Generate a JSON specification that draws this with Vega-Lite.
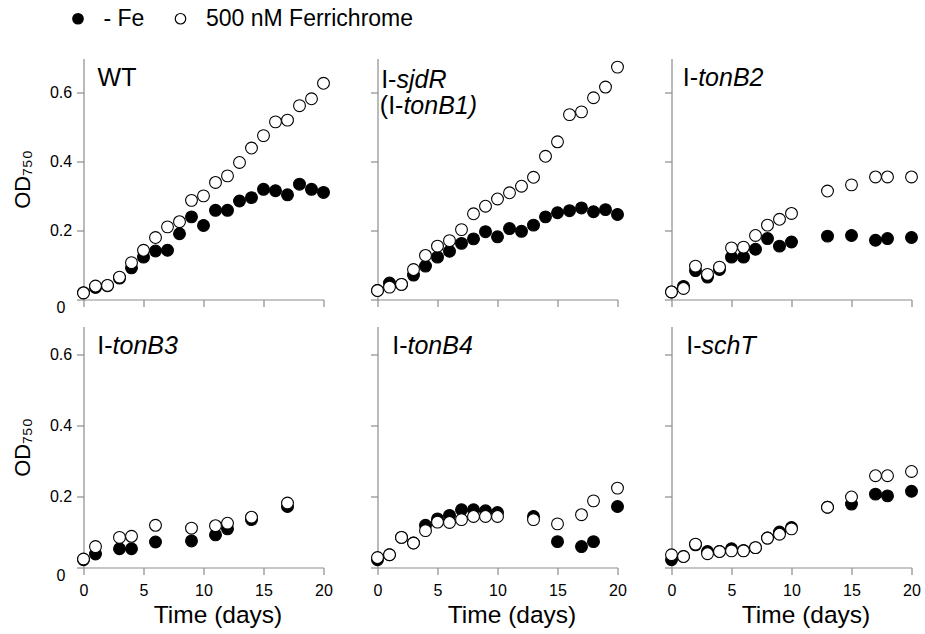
{
"$schema":"https://vega.github.io/schema/vega-lite/v6.json",
"background":"white",
"padding":{"left":10.5,"top":6.5,"right":5,"bottom":3},
"config":{"view":{"stroke":null},"font":"Liberation Sans",
"axis":{"domainColor":"#8c8c8c","tickColor":"#8c8c8c","domainWidth":1.2,"tickWidth":1.2,"tickSize":7,"labelFontSize":16,"labelColor":"black","titleFontSize":22,"titleFontWeight":"normal","titleColor":"black","grid":false,"labelFlush":false},
"axisX":{"labelPadding":8,"titlePadding":5,"titleFontSize":24.5},
"axisY":{"titlePadding":15},
"legend":{"orient":"none","legendX":-17,"legendY":-51.5,"direction":"horizontal","labelFontSize":23,"labelLimit":0,"labelColor":"black","symbolType":"circle","symbolSize":110,"symbolStrokeColor":"black","symbolStrokeWidth":1.2,"columnPadding":24.5,"labelOffset":14,"padding":0}},
"datasets":{
"labels":[
{"panel":"WT","day":4.41,"od":0.62,"prefix":"WT","gene":""},
{"panel":"sjdR","day":1.58,"od":0.615,"prefix":"I-","gene":"sjdR"},
{"panel":"sjdR","day":2.16,"od":0.538,"prefix":"(I-","gene":"tonB1)"},
{"panel":"tonB2","day":2.22,"od":0.62,"prefix":"I-","gene":"tonB2"},
{"panel":"tonB3","day":2.42,"od":0.601,"prefix":"I-","gene":"tonB3"},
{"panel":"tonB4","day":2.5,"od":0.603,"prefix":"I-","gene":"tonB4"},
{"panel":"schT","day":2.5,"od":0.603,"prefix":"I-","gene":"schT"}],
"od":[
{"panel":"WT","condition":"- Fe","day":0,"od":0.02},{"panel":"WT","condition":"- Fe","day":1,"od":0.035},{"panel":"WT","condition":"- Fe","day":2,"od":0.04},{"panel":"WT","condition":"- Fe","day":3,"od":0.062},{"panel":"WT","condition":"- Fe","day":4,"od":0.092},{"panel":"WT","condition":"- Fe","day":5,"od":0.123},{"panel":"WT","condition":"- Fe","day":6,"od":0.141},{"panel":"WT","condition":"- Fe","day":7,"od":0.143},{"panel":"WT","condition":"- Fe","day":8,"od":0.191},{"panel":"WT","condition":"- Fe","day":9,"od":0.24},{"panel":"WT","condition":"- Fe","day":10,"od":0.215},{"panel":"WT","condition":"- Fe","day":11,"od":0.259},{"panel":"WT","condition":"- Fe","day":12,"od":0.259},{"panel":"WT","condition":"- Fe","day":13,"od":0.286},{"panel":"WT","condition":"- Fe","day":14,"od":0.296},{"panel":"WT","condition":"- Fe","day":15,"od":0.32},{"panel":"WT","condition":"- Fe","day":16,"od":0.316},{"panel":"WT","condition":"- Fe","day":17,"od":0.304},{"panel":"WT","condition":"- Fe","day":18,"od":0.335},{"panel":"WT","condition":"- Fe","day":19,"od":0.32},{"panel":"WT","condition":"- Fe","day":20,"od":0.311},
{"panel":"WT","condition":"500 nM Ferrichrome","day":0,"od":0.019},{"panel":"WT","condition":"500 nM Ferrichrome","day":1,"od":0.039},{"panel":"WT","condition":"500 nM Ferrichrome","day":2,"od":0.041},{"panel":"WT","condition":"500 nM Ferrichrome","day":3,"od":0.065},{"panel":"WT","condition":"500 nM Ferrichrome","day":4,"od":0.107},{"panel":"WT","condition":"500 nM Ferrichrome","day":5,"od":0.143},{"panel":"WT","condition":"500 nM Ferrichrome","day":6,"od":0.18},{"panel":"WT","condition":"500 nM Ferrichrome","day":7,"od":0.211},{"panel":"WT","condition":"500 nM Ferrichrome","day":8,"od":0.226},{"panel":"WT","condition":"500 nM Ferrichrome","day":9,"od":0.288},{"panel":"WT","condition":"500 nM Ferrichrome","day":10,"od":0.301},{"panel":"WT","condition":"500 nM Ferrichrome","day":11,"od":0.34},{"panel":"WT","condition":"500 nM Ferrichrome","day":12,"od":0.359},{"panel":"WT","condition":"500 nM Ferrichrome","day":13,"od":0.398},{"panel":"WT","condition":"500 nM Ferrichrome","day":14,"od":0.44},{"panel":"WT","condition":"500 nM Ferrichrome","day":15,"od":0.476},{"panel":"WT","condition":"500 nM Ferrichrome","day":16,"od":0.516},{"panel":"WT","condition":"500 nM Ferrichrome","day":17,"od":0.521},{"panel":"WT","condition":"500 nM Ferrichrome","day":18,"od":0.563},{"panel":"WT","condition":"500 nM Ferrichrome","day":19,"od":0.583},{"panel":"WT","condition":"500 nM Ferrichrome","day":20,"od":0.628},
{"panel":"sjdR","condition":"- Fe","day":0,"od":0.026},{"panel":"sjdR","condition":"- Fe","day":1,"od":0.048},{"panel":"sjdR","condition":"- Fe","day":2,"od":0.044},{"panel":"sjdR","condition":"- Fe","day":3,"od":0.071},{"panel":"sjdR","condition":"- Fe","day":4,"od":0.097},{"panel":"sjdR","condition":"- Fe","day":5,"od":0.123},{"panel":"sjdR","condition":"- Fe","day":6,"od":0.14},{"panel":"sjdR","condition":"- Fe","day":7,"od":0.163},{"panel":"sjdR","condition":"- Fe","day":8,"od":0.176},{"panel":"sjdR","condition":"- Fe","day":9,"od":0.197},{"panel":"sjdR","condition":"- Fe","day":10,"od":0.182},{"panel":"sjdR","condition":"- Fe","day":11,"od":0.206},{"panel":"sjdR","condition":"- Fe","day":12,"od":0.198},{"panel":"sjdR","condition":"- Fe","day":13,"od":0.216},{"panel":"sjdR","condition":"- Fe","day":14,"od":0.24},{"panel":"sjdR","condition":"- Fe","day":15,"od":0.252},{"panel":"sjdR","condition":"- Fe","day":16,"od":0.258},{"panel":"sjdR","condition":"- Fe","day":17,"od":0.266},{"panel":"sjdR","condition":"- Fe","day":18,"od":0.255},{"panel":"sjdR","condition":"- Fe","day":19,"od":0.261},{"panel":"sjdR","condition":"- Fe","day":20,"od":0.247},
{"panel":"sjdR","condition":"500 nM Ferrichrome","day":0,"od":0.026},{"panel":"sjdR","condition":"500 nM Ferrichrome","day":1,"od":0.036},{"panel":"sjdR","condition":"500 nM Ferrichrome","day":2,"od":0.044},{"panel":"sjdR","condition":"500 nM Ferrichrome","day":3,"od":0.087},{"panel":"sjdR","condition":"500 nM Ferrichrome","day":4,"od":0.128},{"panel":"sjdR","condition":"500 nM Ferrichrome","day":5,"od":0.155},{"panel":"sjdR","condition":"500 nM Ferrichrome","day":6,"od":0.171},{"panel":"sjdR","condition":"500 nM Ferrichrome","day":7,"od":0.203},{"panel":"sjdR","condition":"500 nM Ferrichrome","day":8,"od":0.249},{"panel":"sjdR","condition":"500 nM Ferrichrome","day":9,"od":0.271},{"panel":"sjdR","condition":"500 nM Ferrichrome","day":10,"od":0.292},{"panel":"sjdR","condition":"500 nM Ferrichrome","day":11,"od":0.31},{"panel":"sjdR","condition":"500 nM Ferrichrome","day":12,"od":0.329},{"panel":"sjdR","condition":"500 nM Ferrichrome","day":13,"od":0.355},{"panel":"sjdR","condition":"500 nM Ferrichrome","day":14,"od":0.416},{"panel":"sjdR","condition":"500 nM Ferrichrome","day":15,"od":0.458},{"panel":"sjdR","condition":"500 nM Ferrichrome","day":16,"od":0.537},{"panel":"sjdR","condition":"500 nM Ferrichrome","day":17,"od":0.545},{"panel":"sjdR","condition":"500 nM Ferrichrome","day":18,"od":0.586},{"panel":"sjdR","condition":"500 nM Ferrichrome","day":19,"od":0.617},{"panel":"sjdR","condition":"500 nM Ferrichrome","day":20,"od":0.675},
{"panel":"tonB2","condition":"- Fe","day":0,"od":0.022},{"panel":"tonB2","condition":"- Fe","day":1,"od":0.038},{"panel":"tonB2","condition":"- Fe","day":2,"od":0.084},{"panel":"tonB2","condition":"- Fe","day":3,"od":0.065},{"panel":"tonB2","condition":"- Fe","day":4,"od":0.087},{"panel":"tonB2","condition":"- Fe","day":5,"od":0.123},{"panel":"tonB2","condition":"- Fe","day":6,"od":0.123},{"panel":"tonB2","condition":"- Fe","day":7,"od":0.146},{"panel":"tonB2","condition":"- Fe","day":8,"od":0.177},{"panel":"tonB2","condition":"- Fe","day":9,"od":0.155},{"panel":"tonB2","condition":"- Fe","day":10,"od":0.167},{"panel":"tonB2","condition":"- Fe","day":13,"od":0.184},{"panel":"tonB2","condition":"- Fe","day":15,"od":0.186},{"panel":"tonB2","condition":"- Fe","day":17,"od":0.172},{"panel":"tonB2","condition":"- Fe","day":18,"od":0.177},{"panel":"tonB2","condition":"- Fe","day":20,"od":0.18},
{"panel":"tonB2","condition":"500 nM Ferrichrome","day":0,"od":0.022},{"panel":"tonB2","condition":"500 nM Ferrichrome","day":1,"od":0.032},{"panel":"tonB2","condition":"500 nM Ferrichrome","day":2,"od":0.097},{"panel":"tonB2","condition":"500 nM Ferrichrome","day":3,"od":0.073},{"panel":"tonB2","condition":"500 nM Ferrichrome","day":4,"od":0.094},{"panel":"tonB2","condition":"500 nM Ferrichrome","day":5,"od":0.15},{"panel":"tonB2","condition":"500 nM Ferrichrome","day":6,"od":0.152},{"panel":"tonB2","condition":"500 nM Ferrichrome","day":7,"od":0.186},{"panel":"tonB2","condition":"500 nM Ferrichrome","day":8,"od":0.216},{"panel":"tonB2","condition":"500 nM Ferrichrome","day":9,"od":0.233},{"panel":"tonB2","condition":"500 nM Ferrichrome","day":10,"od":0.25},{"panel":"tonB2","condition":"500 nM Ferrichrome","day":13,"od":0.315},{"panel":"tonB2","condition":"500 nM Ferrichrome","day":15,"od":0.333},{"panel":"tonB2","condition":"500 nM Ferrichrome","day":17,"od":0.356},{"panel":"tonB2","condition":"500 nM Ferrichrome","day":18,"od":0.356},{"panel":"tonB2","condition":"500 nM Ferrichrome","day":20,"od":0.356},
{"panel":"tonB3","condition":"- Fe","day":0,"od":0.022},{"panel":"tonB3","condition":"- Fe","day":1,"od":0.038},{"panel":"tonB3","condition":"- Fe","day":3,"od":0.053},{"panel":"tonB3","condition":"- Fe","day":4,"od":0.053},{"panel":"tonB3","condition":"- Fe","day":6,"od":0.072},{"panel":"tonB3","condition":"- Fe","day":9,"od":0.075},{"panel":"tonB3","condition":"- Fe","day":11,"od":0.092},{"panel":"tonB3","condition":"- Fe","day":12,"od":0.109},{"panel":"tonB3","condition":"- Fe","day":14,"od":0.135},{"panel":"tonB3","condition":"- Fe","day":17,"od":0.172},
{"panel":"tonB3","condition":"500 nM Ferrichrome","day":0,"od":0.024},{"panel":"tonB3","condition":"500 nM Ferrichrome","day":1,"od":0.059},{"panel":"tonB3","condition":"500 nM Ferrichrome","day":3,"od":0.085},{"panel":"tonB3","condition":"500 nM Ferrichrome","day":4,"od":0.088},{"panel":"tonB3","condition":"500 nM Ferrichrome","day":6,"od":0.119},{"panel":"tonB3","condition":"500 nM Ferrichrome","day":9,"od":0.111},{"panel":"tonB3","condition":"500 nM Ferrichrome","day":11,"od":0.118},{"panel":"tonB3","condition":"500 nM Ferrichrome","day":12,"od":0.125},{"panel":"tonB3","condition":"500 nM Ferrichrome","day":14,"od":0.142},{"panel":"tonB3","condition":"500 nM Ferrichrome","day":17,"od":0.182},
{"panel":"tonB4","condition":"- Fe","day":0,"od":0.022},{"panel":"tonB4","condition":"- Fe","day":1,"od":0.036},{"panel":"tonB4","condition":"- Fe","day":2,"od":0.085},{"panel":"tonB4","condition":"- Fe","day":3,"od":0.069},{"panel":"tonB4","condition":"- Fe","day":4,"od":0.119},{"panel":"tonB4","condition":"- Fe","day":5,"od":0.137},{"panel":"tonB4","condition":"- Fe","day":6,"od":0.147},{"panel":"tonB4","condition":"- Fe","day":7,"od":0.163},{"panel":"tonB4","condition":"- Fe","day":8,"od":0.163},{"panel":"tonB4","condition":"- Fe","day":9,"od":0.16},{"panel":"tonB4","condition":"- Fe","day":10,"od":0.155},{"panel":"tonB4","condition":"- Fe","day":13,"od":0.144},{"panel":"tonB4","condition":"- Fe","day":15,"od":0.073},{"panel":"tonB4","condition":"- Fe","day":17,"od":0.059},{"panel":"tonB4","condition":"- Fe","day":18,"od":0.073},{"panel":"tonB4","condition":"- Fe","day":20,"od":0.172},
{"panel":"tonB4","condition":"500 nM Ferrichrome","day":0,"od":0.028},{"panel":"tonB4","condition":"500 nM Ferrichrome","day":1,"od":0.036},{"panel":"tonB4","condition":"500 nM Ferrichrome","day":2,"od":0.085},{"panel":"tonB4","condition":"500 nM Ferrichrome","day":3,"od":0.069},{"panel":"tonB4","condition":"500 nM Ferrichrome","day":4,"od":0.104},{"panel":"tonB4","condition":"500 nM Ferrichrome","day":5,"od":0.128},{"panel":"tonB4","condition":"500 nM Ferrichrome","day":6,"od":0.127},{"panel":"tonB4","condition":"500 nM Ferrichrome","day":7,"od":0.135},{"panel":"tonB4","condition":"500 nM Ferrichrome","day":8,"od":0.144},{"panel":"tonB4","condition":"500 nM Ferrichrome","day":9,"od":0.144},{"panel":"tonB4","condition":"500 nM Ferrichrome","day":10,"od":0.144},{"panel":"tonB4","condition":"500 nM Ferrichrome","day":13,"od":0.135},{"panel":"tonB4","condition":"500 nM Ferrichrome","day":15,"od":0.123},{"panel":"tonB4","condition":"500 nM Ferrichrome","day":17,"od":0.149},{"panel":"tonB4","condition":"500 nM Ferrichrome","day":18,"od":0.188},{"panel":"tonB4","condition":"500 nM Ferrichrome","day":20,"od":0.224},
{"panel":"schT","condition":"- Fe","day":0,"od":0.022},{"panel":"schT","condition":"- Fe","day":1,"od":0.031},{"panel":"schT","condition":"- Fe","day":2,"od":0.064},{"panel":"schT","condition":"- Fe","day":3,"od":0.045},{"panel":"schT","condition":"- Fe","day":4,"od":0.045},{"panel":"schT","condition":"- Fe","day":5,"od":0.053},{"panel":"schT","condition":"- Fe","day":6,"od":0.048},{"panel":"schT","condition":"- Fe","day":7,"od":0.056},{"panel":"schT","condition":"- Fe","day":8,"od":0.083},{"panel":"schT","condition":"- Fe","day":9,"od":0.1},{"panel":"schT","condition":"- Fe","day":10,"od":0.113},{"panel":"schT","condition":"- Fe","day":13,"od":0.17},{"panel":"schT","condition":"- Fe","day":15,"od":0.179},{"panel":"schT","condition":"- Fe","day":17,"od":0.207},{"panel":"schT","condition":"- Fe","day":18,"od":0.202},{"panel":"schT","condition":"- Fe","day":20,"od":0.215},
{"panel":"schT","condition":"500 nM Ferrichrome","day":0,"od":0.036},{"panel":"schT","condition":"500 nM Ferrichrome","day":1,"od":0.031},{"panel":"schT","condition":"500 nM Ferrichrome","day":2,"od":0.066},{"panel":"schT","condition":"500 nM Ferrichrome","day":3,"od":0.039},{"panel":"schT","condition":"500 nM Ferrichrome","day":4,"od":0.045},{"panel":"schT","condition":"500 nM Ferrichrome","day":5,"od":0.047},{"panel":"schT","condition":"500 nM Ferrichrome","day":6,"od":0.047},{"panel":"schT","condition":"500 nM Ferrichrome","day":7,"od":0.056},{"panel":"schT","condition":"500 nM Ferrichrome","day":8,"od":0.083},{"panel":"schT","condition":"500 nM Ferrichrome","day":9,"od":0.094},{"panel":"schT","condition":"500 nM Ferrichrome","day":10,"od":0.109},{"panel":"schT","condition":"500 nM Ferrichrome","day":13,"od":0.17},{"panel":"schT","condition":"500 nM Ferrichrome","day":15,"od":0.199},{"panel":"schT","condition":"500 nM Ferrichrome","day":17,"od":0.259},{"panel":"schT","condition":"500 nM Ferrichrome","day":18,"od":0.259},{"panel":"schT","condition":"500 nM Ferrichrome","day":20,"od":0.271}
]},
"columns":3,
"spacing":{"row":27,"column":54},
"bounds":"flush",
"concat":[
{"width":240,"height":241,
"encoding":{"x":{"field":"day","type":"quantitative","scale":{"domain":[0,20],"nice":false},"axis":{"values":[0,5,10,15,20],"labels":false,"title":null}},
"y":{"field":"od","type":"quantitative","scale":{"domain":[0,0.7],"nice":false},"axis":{"values":[0,0.2,0.4,0.6],"format":".1~f","title":"OD₇₅₀","labelAlign":"center","labelPadding":16,"labelBaseline":{"condition":{"test":"datum.value === 0","value":"top"},"value":"middle"}}}},
"layer":[
{"data":{"name":"od"},"transform":[{"filter":"datum.panel === 'WT'"}],"mark":{"type":"point","filled":true,"stroke":"black","strokeWidth":1.1,"size":140,"opacity":1},"encoding":{"fill":{"field":"condition","type":"nominal","title":null,"scale":{"domain":["- Fe","500 nM Ferrichrome"],"range":["black","white"]}}}},
{"data":{"name":"labels"},"transform":[{"filter":"datum.panel === 'WT'"}],"mark":{"type":"text","align":"right","baseline":"alphabetic","fontSize":25,"color":"black"},"encoding":{"text":{"field":"prefix"}}},
{"data":{"name":"labels"},"transform":[{"filter":"datum.panel === 'WT'"}],"mark":{"type":"text","align":"left","baseline":"alphabetic","fontSize":25,"fontStyle":"italic","color":"black"},"encoding":{"text":{"field":"gene"}}}]},
{"width":240,"height":241,
"encoding":{"x":{"field":"day","type":"quantitative","scale":{"domain":[0,20],"nice":false},"axis":{"values":[0,5,10,15,20],"labels":false,"title":null}},
"y":{"field":"od","type":"quantitative","scale":{"domain":[0,0.7],"nice":false},"axis":{"values":[0,0.2,0.4,0.6],"labels":false,"title":null}}},
"layer":[
{"data":{"name":"od"},"transform":[{"filter":"datum.panel === 'sjdR'"}],"mark":{"type":"point","filled":true,"stroke":"black","strokeWidth":1.1,"size":140,"opacity":1},"encoding":{"fill":{"field":"condition","type":"nominal","title":null,"scale":{"domain":["- Fe","500 nM Ferrichrome"],"range":["black","white"]}}}},
{"data":{"name":"labels"},"transform":[{"filter":"datum.panel === 'sjdR'"}],"mark":{"type":"text","align":"right","baseline":"alphabetic","fontSize":25,"color":"black"},"encoding":{"text":{"field":"prefix"}}},
{"data":{"name":"labels"},"transform":[{"filter":"datum.panel === 'sjdR'"}],"mark":{"type":"text","align":"left","baseline":"alphabetic","fontSize":25,"fontStyle":"italic","color":"black"},"encoding":{"text":{"field":"gene"}}}]},
{"width":240,"height":241,
"encoding":{"x":{"field":"day","type":"quantitative","scale":{"domain":[0,20],"nice":false},"axis":{"values":[0,5,10,15,20],"labels":false,"title":null}},
"y":{"field":"od","type":"quantitative","scale":{"domain":[0,0.7],"nice":false},"axis":{"values":[0,0.2,0.4,0.6],"labels":false,"title":null}}},
"layer":[
{"data":{"name":"od"},"transform":[{"filter":"datum.panel === 'tonB2'"}],"mark":{"type":"point","filled":true,"stroke":"black","strokeWidth":1.1,"size":140,"opacity":1},"encoding":{"fill":{"field":"condition","type":"nominal","title":null,"scale":{"domain":["- Fe","500 nM Ferrichrome"],"range":["black","white"]}}}},
{"data":{"name":"labels"},"transform":[{"filter":"datum.panel === 'tonB2'"}],"mark":{"type":"text","align":"right","baseline":"alphabetic","fontSize":25,"color":"black"},"encoding":{"text":{"field":"prefix"}}},
{"data":{"name":"labels"},"transform":[{"filter":"datum.panel === 'tonB2'"}],"mark":{"type":"text","align":"left","baseline":"alphabetic","fontSize":25,"fontStyle":"italic","color":"black"},"encoding":{"text":{"field":"gene"}}}]},
{"width":240,"height":241,
"encoding":{"x":{"field":"day","type":"quantitative","scale":{"domain":[0,20],"nice":false},"axis":{"values":[0,5,10,15,20],"title":"Time (days)","titleX":134}},
"y":{"field":"od","type":"quantitative","scale":{"domain":[0,0.68],"nice":false},"axis":{"values":[0,0.2,0.4,0.6],"format":".1~f","title":"OD₇₅₀","labelAlign":"center","labelPadding":16,"labelBaseline":{"condition":{"test":"datum.value === 0","value":"top"},"value":"middle"}}}},
"layer":[
{"data":{"name":"od"},"transform":[{"filter":"datum.panel === 'tonB3'"}],"mark":{"type":"point","filled":true,"stroke":"black","strokeWidth":1.1,"size":140,"opacity":1},"encoding":{"fill":{"field":"condition","type":"nominal","title":null,"scale":{"domain":["- Fe","500 nM Ferrichrome"],"range":["black","white"]}}}},
{"data":{"name":"labels"},"transform":[{"filter":"datum.panel === 'tonB3'"}],"mark":{"type":"text","align":"right","baseline":"alphabetic","fontSize":25,"color":"black"},"encoding":{"text":{"field":"prefix"}}},
{"data":{"name":"labels"},"transform":[{"filter":"datum.panel === 'tonB3'"}],"mark":{"type":"text","align":"left","baseline":"alphabetic","fontSize":25,"fontStyle":"italic","color":"black"},"encoding":{"text":{"field":"gene"}}}]},
{"width":240,"height":241,
"encoding":{"x":{"field":"day","type":"quantitative","scale":{"domain":[0,20],"nice":false},"axis":{"values":[0,5,10,15,20],"title":"Time (days)","titleX":134}},
"y":{"field":"od","type":"quantitative","scale":{"domain":[0,0.68],"nice":false},"axis":{"values":[0,0.2,0.4,0.6],"labels":false,"title":null}}},
"layer":[
{"data":{"name":"od"},"transform":[{"filter":"datum.panel === 'tonB4'"}],"mark":{"type":"point","filled":true,"stroke":"black","strokeWidth":1.1,"size":140,"opacity":1},"encoding":{"fill":{"field":"condition","type":"nominal","title":null,"scale":{"domain":["- Fe","500 nM Ferrichrome"],"range":["black","white"]}}}},
{"data":{"name":"labels"},"transform":[{"filter":"datum.panel === 'tonB4'"}],"mark":{"type":"text","align":"right","baseline":"alphabetic","fontSize":25,"color":"black"},"encoding":{"text":{"field":"prefix"}}},
{"data":{"name":"labels"},"transform":[{"filter":"datum.panel === 'tonB4'"}],"mark":{"type":"text","align":"left","baseline":"alphabetic","fontSize":25,"fontStyle":"italic","color":"black"},"encoding":{"text":{"field":"gene"}}}]},
{"width":240,"height":241,
"encoding":{"x":{"field":"day","type":"quantitative","scale":{"domain":[0,20],"nice":false},"axis":{"values":[0,5,10,15,20],"title":"Time (days)","titleX":134}},
"y":{"field":"od","type":"quantitative","scale":{"domain":[0,0.68],"nice":false},"axis":{"values":[0,0.2,0.4,0.6],"labels":false,"title":null}}},
"layer":[
{"data":{"name":"od"},"transform":[{"filter":"datum.panel === 'schT'"}],"mark":{"type":"point","filled":true,"stroke":"black","strokeWidth":1.1,"size":140,"opacity":1},"encoding":{"fill":{"field":"condition","type":"nominal","title":null,"scale":{"domain":["- Fe","500 nM Ferrichrome"],"range":["black","white"]}}}},
{"data":{"name":"labels"},"transform":[{"filter":"datum.panel === 'schT'"}],"mark":{"type":"text","align":"right","baseline":"alphabetic","fontSize":25,"color":"black"},"encoding":{"text":{"field":"prefix"}}},
{"data":{"name":"labels"},"transform":[{"filter":"datum.panel === 'schT'"}],"mark":{"type":"text","align":"left","baseline":"alphabetic","fontSize":25,"fontStyle":"italic","color":"black"},"encoding":{"text":{"field":"gene"}}}]}
]
}
